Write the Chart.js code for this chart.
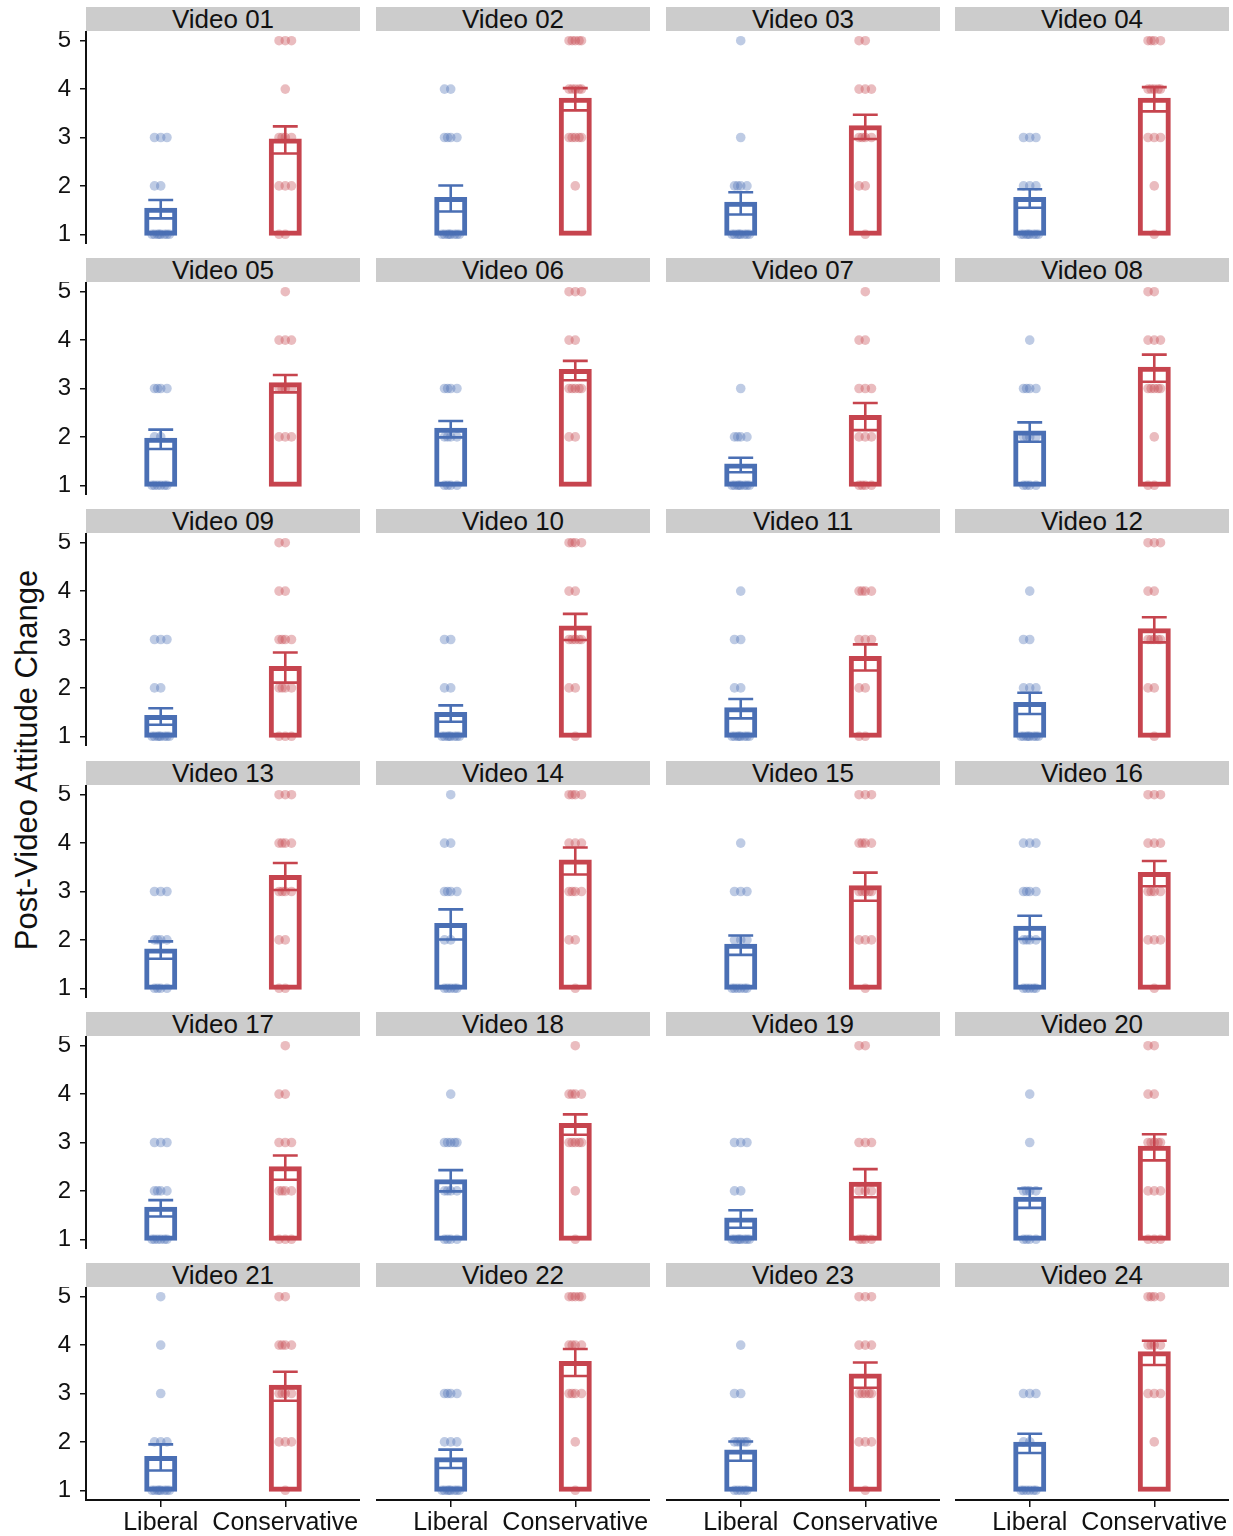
<!DOCTYPE html>
<html><head><meta charset="utf-8">
<script src="https://cdn.jsdelivr.net/npm/chart.js@4.4.0/dist/chart.umd.min.js"></script>
<style>
html,body{margin:0;padding:0;background:#fff;}
body{width:1233px;height:1536px;position:relative;overflow:hidden;font-family:"Liberation Sans",Arial,sans-serif;}
.strip{position:absolute;background:#cccccc;color:#111;font-size:26px;line-height:24px;text-align:center;white-space:nowrap;overflow:visible;}
.box{position:absolute;}
#ytitle{position:absolute;left:27px;top:760px;transform:translate(-50%,-50%) rotate(-90deg);font-size:31px;color:#111;white-space:nowrap;}
</style></head><body>
<div id="ytitle">Post-Video Attitude Change</div>
<script>
// ---- data ----
const videos = ["Video 01","Video 02","Video 03","Video 04","Video 05","Video 06","Video 07","Video 08",
  "Video 09","Video 10","Video 11","Video 12","Video 13","Video 14","Video 15","Video 16",
  "Video 17","Video 18","Video 19","Video 20","Video 21","Video 22","Video 23","Video 24"];
const groups = ["Liberal","Conservative"];
const yTicks = [1,2,3,4,5];
const libMean = [1.52,1.74,1.64,1.74,1.95,2.16,1.42,2.10,1.41,1.47,1.57,1.68,1.79,2.32,1.89,2.26,1.64,2.21,1.42,1.85,1.68,1.65,1.81,1.97];
const libSE   = [0.19,0.27,0.23,0.19,0.20,0.17,0.15,0.20,0.17,0.17,0.20,0.22,0.18,0.31,0.20,0.24,0.17,0.22,0.18,0.20,0.27,0.19,0.20,0.20];
const conMean = [2.95,3.79,3.22,3.79,3.10,3.37,2.42,3.42,2.42,3.26,2.63,3.20,3.31,3.63,3.10,3.37,2.48,3.37,2.16,2.90,3.15,3.64,3.38,3.84];
const conSE   = [0.28,0.23,0.25,0.25,0.18,0.20,0.28,0.28,0.31,0.27,0.27,0.26,0.28,0.28,0.29,0.26,0.25,0.21,0.29,0.27,0.30,0.28,0.26,0.25];
// number of responses at each level 1..5
const libCounts = [[8,2,3,0,0],[8,0,4,2,0],[8,4,1,0,1],[8,3,3,0,0],[6,2,4,0,0],[4,4,4,0,0],[8,4,1,0,0],[4,4,4,1,0],
  [8,2,3,0,0],[8,2,2,0,0],[8,2,2,1,0],[8,3,2,1,0],[4,4,3,0,0],[5,2,4,2,1],[6,3,3,1,0],[5,4,4,3,0],
  [6,4,3,0,0],[4,4,5,1,0],[8,2,3,0,0],[4,4,1,1,0],[8,3,1,1,1],[8,3,4,0,0],[5,5,2,1,0],[6,2,3,0,0]];
const conCounts = [[2,3,4,1,3],[0,1,5,5,5],[1,2,4,3,2],[1,1,3,5,4],[0,3,4,3,1],[0,2,5,2,3],[4,3,3,2,1],[2,1,5,3,2],
  [3,4,4,2,2],[1,2,5,2,4],[2,2,3,4,0],[1,2,5,2,3],[2,2,4,4,3],[1,2,4,3,4],[1,3,5,4,3],[1,3,4,3,3],
  [3,4,3,2,1],[1,1,5,4,1],[4,3,3,0,2],[3,3,5,2,2],[1,3,4,4,2],[1,1,4,4,5],[1,3,5,3,3],[0,1,3,4,4]];

// ---- style / layout ----
const BLUE = "#4A6FB4", RED = "#C6444E";
const BLUE_A = "rgba(74,111,180,0.36)", RED_A = "rgba(198,68,78,0.36)";
const FONT = "'Liberation Sans', Arial, sans-serif";
const JIT = [0,-0.05,0.05,-0.025,0.03,-0.07,0.07,-0.012];
const CAP = 0.1;
const PANEL_LEFT = [86,376,666,955], PANEL_W = 274;
const ROW_PITCH = 251.2, STRIP_H = 24, PLOT_H = 213, XAXIS_H = 37, YAXIS_W = 86;

function makePoints(counts, g){
  const pts = [];
  counts.forEach((n, li) => { for (let k = 0; k < n; k++) pts.push({x: g + JIT[k % JIT.length], y: li + 1}); });
  return pts;
}
function errPlugin(items){
  return { id:'errbars', afterDatasetsDraw(chart){
    const {ctx, scales:{x, y}} = chart;
    ctx.save(); ctx.lineWidth = 2.6; ctx.lineCap = 'butt';
    items.forEach(it => {
      const xc = x.getPixelForValue(it.x), xl = x.getPixelForValue(it.x - CAP), xr = x.getPixelForValue(it.x + CAP);
      const yt = y.getPixelForValue(it.m + it.se), yb = y.getPixelForValue(it.m - it.se);
      ctx.strokeStyle = it.color; ctx.beginPath();
      ctx.moveTo(xl, yt); ctx.lineTo(xr, yt);
      ctx.moveTo(xc, yt); ctx.lineTo(xc, yb);
      ctx.moveTo(xl, yb); ctx.lineTo(xr, yb);
      ctx.stroke();
    });
    ctx.restore();
  }};
}

videos.forEach((name, i) => {
  const r = Math.floor(i / 4), c = i % 4;
  const stripTop = 7 + Math.round(r * ROW_PITCH);
  const plotTop = stripTop + STRIP_H;
  const s = document.createElement('div');
  s.className = 'strip'; s.textContent = name;
  s.style.left = PANEL_LEFT[c] + 'px'; s.style.top = stripTop + 'px';
  s.style.width = PANEL_W + 'px'; s.style.height = STRIP_H + 'px';
  document.body.appendChild(s);

  const showY = c === 0, showX = r === 5;
  const left = showY ? 0 : PANEL_LEFT[c];
  const w = PANEL_LEFT[c] + PANEL_W - left;
  const h = PLOT_H + (showX ? XAXIS_H : 0);
  const box = document.createElement('div');
  box.className = 'box';
  box.style.left = left + 'px'; box.style.top = plotTop + 'px';
  box.style.width = w + 'px'; box.style.height = h + 'px';
  const cv = document.createElement('canvas');
  box.appendChild(cv);
  document.body.appendChild(box);

  new Chart(cv, {
    type: 'bar',
    data: { datasets: [
      { type:'bar', data:[{x:1, y:[1, libMean[i]]}, {x:2, y:[1, conMean[i]]}],
        borderColor:[BLUE, RED], backgroundColor:'rgba(255,255,255,0)', borderWidth:2,
        borderSkipped:false, barThickness:30, inflateAmount:1.5, order:3 },
      { type:'scatter', data: makePoints(libCounts[i], 1), pointRadius:4.8, pointBorderWidth:0,
        pointBackgroundColor: BLUE_A, backgroundColor: BLUE_A, borderColor:'rgba(0,0,0,0)', order:2 },
      { type:'scatter', data: makePoints(conCounts[i], 2), pointRadius:4.8, pointBorderWidth:0,
        pointBackgroundColor: RED_A, backgroundColor: RED_A, borderColor:'rgba(0,0,0,0)', order:1 }
    ]},
    options: {
      responsive:true, maintainAspectRatio:false, animation:false, events:[], devicePixelRatio:1,
      layout:{padding:0, autoPadding:false},
      plugins:{legend:{display:false}, tooltip:{enabled:false}},
      scales:{
        x:{ type:'linear', min:0.4, max:2.6, offset:false, display:showX,
          afterBuildTicks: sc => { sc.ticks = [{value:1},{value:2}]; },
          ticks:{ callback: v => groups[v-1], font:{size:25, family:FONT}, color:'#111', padding:1, maxRotation:0, autoSkip:false },
          grid:{ display:true, drawOnChartArea:false, drawTicks:true, tickLength:7, color:'#111', lineWidth:1.5, offset:false },
          border:{ display:true, color:'#111', width:2 },
          afterFit: sc => { sc.height = showX ? XAXIS_H : 0; sc.paddingLeft = 0; sc.paddingRight = 0; } },
        y:{ min:0.8, max:5.2, display:showY,
          afterBuildTicks: sc => { sc.ticks = yTicks.map(v => ({value:v})); },
          ticks:{ font:{size:24, family:FONT}, color:'#111', padding:9 },
          grid:{ display:true, drawOnChartArea:false, drawTicks:true, tickLength:6, color:'#111', lineWidth:1.5 },
          border:{ display:true, color:'#111', width:2 },
          afterFit: sc => { sc.width = showY ? YAXIS_W : 0; sc.paddingTop = 0; sc.paddingBottom = 0; } }
      }
    },
    plugins:[errPlugin([
      {x:1, m:libMean[i], se:libSE[i], color:BLUE},
      {x:2, m:conMean[i], se:conSE[i], color:RED}
    ])]
  });
});
</script>
</body></html>
